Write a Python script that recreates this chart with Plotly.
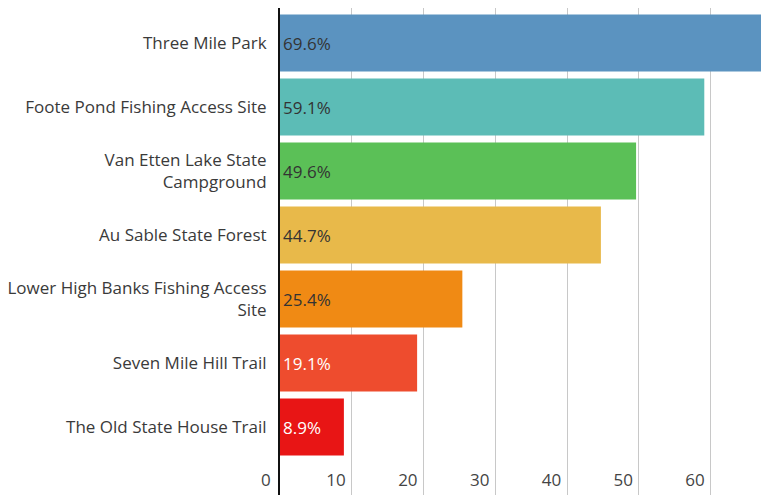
import plotly.graph_objects as go

# Site names and share of visits (%)
sites = [
    "Three Mile Park",
    "Foote Pond Fishing Access Site",
    "Van Etten Lake State<br>Campground",
    "Au Sable State Forest",
    "Lower High Banks Fishing Access<br>Site",
    "Seven Mile Hill Trail",
    "The Old State House Trail",
]
shares = [69.6, 59.1, 49.6, 44.7, 25.4, 19.1, 8.9]
bar_colors = ["#5b93c0", "#5cbcb6", "#5bc057", "#e8b94a", "#f08a14", "#ee4c2e", "#e81515"]
label_colors = ["#333333", "#333333", "#333333", "#333333", "#333333", "#ffffff", "#ffffff"]
x_ticks = [0, 10, 20, 30, 40, 50, 60]

FONT = "Open Sans, sans-serif"

fig = go.Figure(
    go.Bar(
        x=shares,
        y=sites,
        orientation="h",
        marker=dict(color=bar_colors, line=dict(width=0)),
        text=[f"{v}%" for v in shares],
        textposition="inside",
        insidetextanchor="start",
        textangle=0,
        constraintext="none",
        cliponaxis=True,
        textfont=dict(family=FONT, size=17, color=label_colors),
        hoverinfo="skip",
    )
)

fig.update_layout(
    width=761,
    height=495,
    margin=dict(l=280, r=0, t=8, b=0),
    paper_bgcolor="white",
    plot_bgcolor="white",
    bargap=0.11,
    showlegend=False,
    font=dict(family=FONT, size=17, color="#333333"),
)

fig.update_xaxes(
    range=[0, 67],
    tickvals=x_ticks[1:],
    ticktext=[str(t) for t in x_ticks[1:]],
    ticklabelposition="inside left",
    ticklabelshift=-6,
    showgrid=True,
    gridcolor="#c8c8c8",
    gridwidth=1,
    zeroline=False,
    showline=False,
    ticks="",
    tickfont=dict(family=FONT, size=17, color="#444444"),
)

# The zero label sits just left of the axis line, outside the plotting area
fig.add_annotation(
    x=x_ticks[0], xref="x", y=0, yref="paper",
    text=str(x_ticks[0]), showarrow=False,
    xanchor="right", yanchor="bottom", xshift=-7, yshift=2,
    font=dict(family=FONT, size=17, color="#444444"),
)

fig.update_yaxes(
    categoryorder="array",
    categoryarray=sites,
    range=[7.0625, -0.547],
    showgrid=False,
    zeroline=False,
    showline=True,
    linecolor="#111111",
    linewidth=2,
    ticks="",
    ticklabelstandoff=8,
    tickfont=dict(family=FONT, size=17, color="#3a3a3a"),
)

fig.write_html("out.html")
